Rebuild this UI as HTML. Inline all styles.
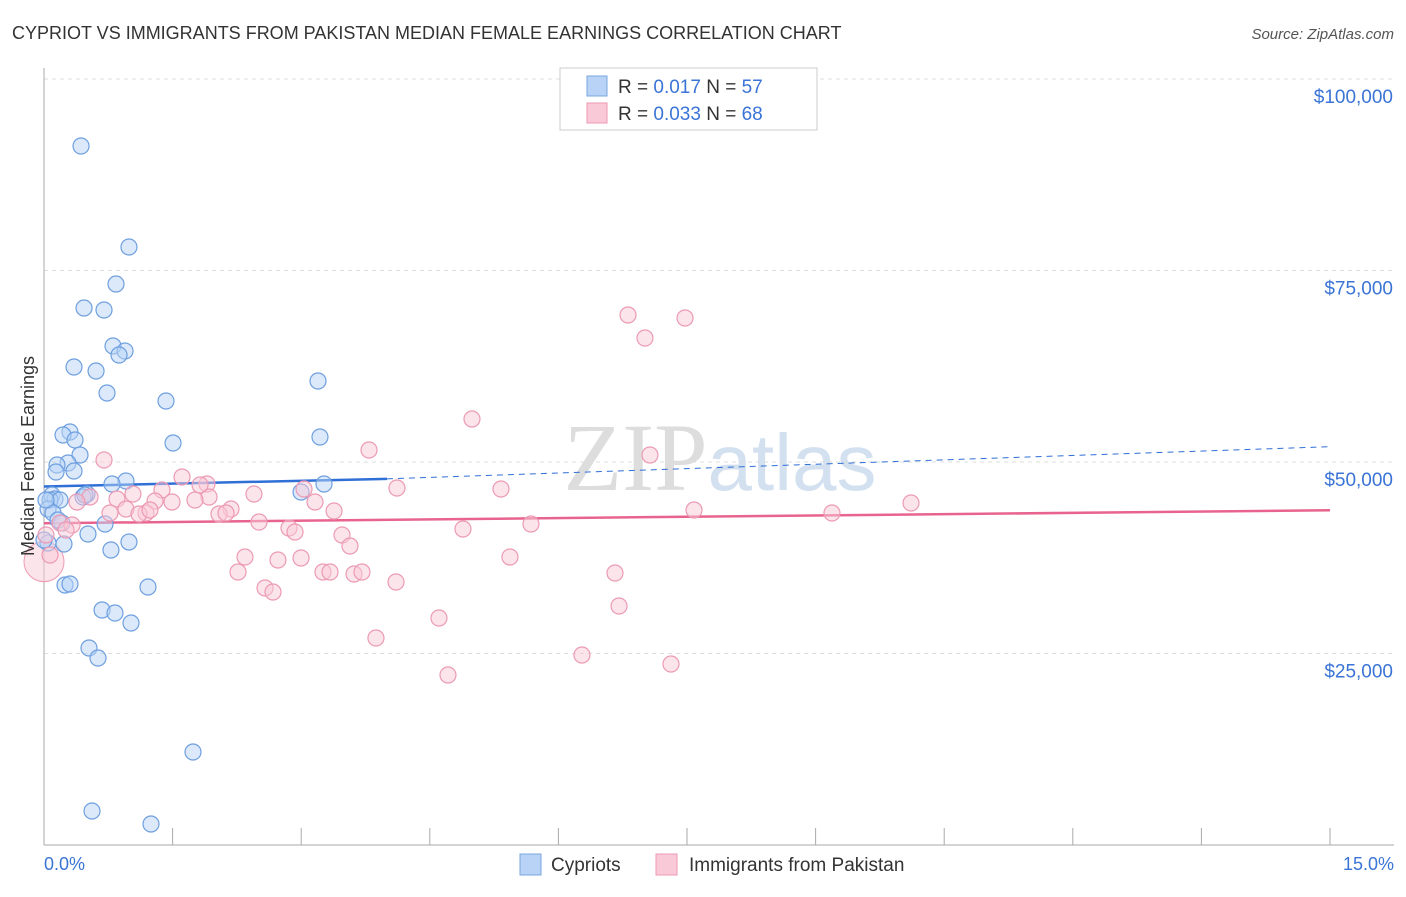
<!DOCTYPE html>
<html><head><meta charset="utf-8"><style>
body{margin:0;background:#fff;font-family:"Liberation Sans",sans-serif}
</style></head><body>
<svg width="1406" height="892" xmlns="http://www.w3.org/2000/svg" font-family="Liberation Sans, sans-serif">
<text x="12" y="39" font-size="18" fill="#333">CYPRIOT VS IMMIGRANTS FROM PAKISTAN MEDIAN FEMALE EARNINGS CORRELATION CHART</text>
<text x="1394" y="39" font-size="15" fill="#555" font-style="italic" text-anchor="end">Source: ZipAtlas.com</text>
<text x="720" y="490" font-size="96" fill="#ddd" text-anchor="middle" font-family="Liberation Serif, serif">ZIP<tspan fill="#d3e0f0" font-family="Liberation Sans, sans-serif" font-size="80">atlas</tspan></text>
<g id="grid"></g>
<g id="axes"></g>
<g id="trends"></g>
<g id="pts"></g>
<text transform="translate(34,456) rotate(-90)" font-size="18" fill="#333" text-anchor="middle">Median Female Earnings</text>
<g>
<rect x="560" y="68" width="257" height="62" fill="#fff" stroke="#ccc"/>
<rect x="587" y="76" width="20" height="20" fill="#b8d3f5" stroke="#7aa7e0"/>
<rect x="587" y="103" width="20" height="20" fill="#f9c9d8" stroke="#ee9ab5"/>
<text x="618" y="93" font-size="19" fill="#333">R = <tspan fill="#3a74d6">0.017</tspan>   N = <tspan fill="#3a74d6">57</tspan></text>
<text x="618" y="120" font-size="19" fill="#333">R = <tspan fill="#3a74d6">0.033</tspan>   N = <tspan fill="#3a74d6">68</tspan></text>
</g>
<g>
<rect x="520" y="854" width="21" height="21" fill="#b8d3f5" stroke="#7aa7e0"/>
<text x="551" y="871" font-size="19" fill="#333">Cypriots</text>
<rect x="656" y="854" width="21" height="21" fill="#f9c9d8" stroke="#ee9ab5"/>
<text x="689" y="871" font-size="19" fill="#333">Immigrants from Pakistan</text>
</g>
<text x="44" y="870" font-size="18" fill="#3a74d6">0.0%</text>
<text x="1394" y="870" font-size="18" fill="#3a74d6" text-anchor="end">15.0%</text>
<script>
const yTicks=[25000,50000,75000,100000];
const yTickLabels=["$25,000","$50,000","$75,000","$100,000"];
const xTicks=[0,1.5,3,4.5,6,7.5,9,10.5,12,13.5,15];
const blueX=[];const blueY=[];const pinkX=[];const pinkY=[];
const bluePx=[[81,146],[129,247],[116,284],[84,308],[104,310],[113,346],[125,351],[119,355],[74,367],[96,371],[107,393],[166,401],[318,381],[173,443],[320,437],[70,432],[63,435],[75,440],[80,455],[68,463],[57,465],[74,471],[56,472],[126,481],[112,484],[324,484],[301,492],[52,495],[55,499],[87,494],[83,497],[50,500],[60,500],[48,509],[53,513],[105,524],[62,523],[88,534],[129,542],[64,544],[111,550],[48,543],[65,585],[70,584],[148,587],[102,610],[115,613],[131,623],[89,648],[98,658],[193,752],[92,811],[151,824],[85,495],[44,540],[58,520],[46,500]];
const pinkPx=[[628,315],[685,318],[645,338],[472,419],[369,450],[650,455],[104,460],[182,477],[207,484],[397,488],[501,489],[304,489],[254,494],[162,490],[133,494],[209,497],[90,497],[77,502],[117,499],[155,501],[195,500],[172,502],[315,502],[231,509],[334,511],[219,514],[911,503],[694,510],[832,513],[146,513],[126,509],[139,514],[259,522],[289,528],[295,532],[531,524],[463,529],[342,535],[350,546],[60,523],[72,525],[66,530],[46,535],[245,557],[510,557],[278,560],[301,558],[238,572],[323,572],[330,572],[354,574],[362,572],[615,573],[396,582],[265,588],[273,592],[619,606],[439,618],[376,638],[582,655],[671,664],[448,675],[50,555],[110,513],[200,485],[150,510],[226,513]];
// data values (percent, dollars)
bluePx.forEach(p=>{blueX.push(+((p[0]-44)/1286*15).toFixed(3));blueY.push(Math.round((845-p[1])/191.5*25000));});
pinkPx.forEach(p=>{pinkX.push(+((p[0]-44)/1286*15).toFixed(3));pinkY.push(Math.round((845-p[1])/191.5*25000));});
const blueTrend=[[0,46800],[4.0,47800],[15,52000]];
const pinkTrend=[[0,42000],[15,43700]];
const X=v=>44+v/15*1286, Y=v=>845-v/25000*191.5;
const NS="http://www.w3.org/2000/svg";
function mk(t,a,parent){const e=document.createElementNS(NS,t);for(const k in a)e.setAttribute(k,a[k]);document.getElementById(parent).appendChild(e);return e;}
yTicks.forEach((t,i)=>{
const l=mk('line',{x1:44,x2:1394,y1:Y(t),y2:Y(t),stroke:'#ddd','stroke-dasharray':'4,4'},'grid');


const tx=mk('text',{x:1393,y:Y(t)+24,'font-size':19,fill:'#3a74d6','text-anchor':'end'},'axes');
tx.textContent=yTickLabels[i];


});
mk('line',{x1:44,x2:44,y1:68,y2:845,stroke:'#aaa'},'axes');
mk('line',{x1:44,x2:1394,y1:845,y2:845,stroke:'#aaa'},'axes');
xTicks.forEach(t=>{const l=mk('line',{x1:X(t),x2:X(t),y1:828,y2:845,stroke:'#aaa'},'axes');

});
const pc=mk('circle',{cx:X(0),cy:Y(37000),r:20,fill:'#f9c9d8','fill-opacity':0.5,stroke:'#ee9ab5'},'pts');


blueX.forEach((x,i)=>{const c=mk('circle',{cx:X(x),cy:Y(blueY[i]),r:8,fill:'#b8d3f5','fill-opacity':0.5,stroke:'#6e9fe0','stroke-width':1.2},'pts');

});
pinkX.forEach((x,i)=>{const c=mk('circle',{cx:X(x),cy:Y(pinkY[i]),r:8,fill:'#f9c9d8','fill-opacity':0.5,stroke:'#ec9ab4','stroke-width':1.2},'pts');

});
let b=mk('line',{x1:X(blueTrend[0][0]),y1:Y(blueTrend[0][1]),x2:X(blueTrend[1][0]),y2:Y(blueTrend[1][1]),stroke:'#2f6fd6','stroke-width':2.5},'trends');


b=mk('line',{x1:X(blueTrend[1][0]),y1:Y(blueTrend[1][1]),x2:X(blueTrend[2][0]),y2:Y(blueTrend[2][1]),stroke:'#2f6fd6','stroke-width':1,'stroke-dasharray':'6,5'},'trends');


b=mk('line',{x1:X(pinkTrend[0][0]),y1:Y(pinkTrend[0][1]),x2:X(pinkTrend[1][0]),y2:Y(pinkTrend[1][1]),stroke:'#e8648e','stroke-width':2.5},'trends');


</script>
</svg>
</body></html>
